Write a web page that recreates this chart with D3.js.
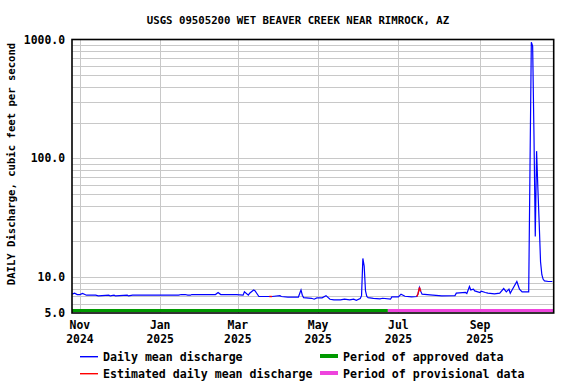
<!DOCTYPE html>
<html>
<head>
<meta charset="utf-8">
<script src="https://cdn.jsdelivr.net/npm/d3@7"></script>
<style>
  html, body { margin: 0; padding: 0; background: #fff; }
  svg { display: block; }
  text { font-family: "DejaVu Sans Mono", "Liberation Mono", monospace; font-weight: bold; fill: #000; }
</style>
</head>
<body>
<svg id="chart" width="576" height="384"></svg>
<script>
// ---- data ----
const title = "USGS 09505200 WET BEAVER CREEK NEAR RIMROCK, AZ";
const yLabel = "DAILY Discharge, cubic feet per second";

// daily mean discharge key points (date, cfs)
const dates = [
  "2024-10-26","2024-10-28","2024-10-30","2024-11-01","2024-11-03","2024-11-06","2024-11-13","2024-11-15",
  "2024-11-23","2024-11-24","2024-11-27","2024-11-28","2024-12-07","2024-12-08","2024-12-11","2025-01-15",
  "2025-01-17","2025-01-20","2025-01-22","2025-01-24","2025-01-25","2025-02-12","2025-02-14","2025-02-16",
  "2025-02-28","2025-03-05","2025-03-06","2025-03-09","2025-03-10","2025-03-13","2025-03-14","2025-03-17",
  "2025-03-25","2025-03-26","2025-03-27","2025-04-02","2025-04-03","2025-04-08","2025-04-16","2025-04-17",
  "2025-04-18","2025-04-19","2025-04-20","2025-04-26","2025-04-28","2025-04-30","2025-05-04","2025-05-07",
  "2025-05-10","2025-05-13","2025-05-18","2025-05-21","2025-05-25","2025-05-28","2025-05-30","2025-06-02",
  "2025-06-03","2025-06-04","2025-06-05","2025-06-06","2025-06-07","2025-06-08","2025-06-12","2025-06-17",
  "2025-06-19","2025-06-25","2025-06-26","2025-07-01","2025-07-03","2025-07-06","2025-07-11","2025-07-15",
  "2025-07-16","2025-07-17","2025-07-18","2025-07-19","2025-07-25","2025-08-03","2025-08-13","2025-08-14",
  "2025-08-21","2025-08-22","2025-08-24","2025-08-25","2025-08-27","2025-08-28","2025-09-01","2025-09-02",
  "2025-09-05","2025-09-07","2025-09-12","2025-09-16","2025-09-19","2025-09-21","2025-09-23","2025-09-24",
  "2025-09-26","2025-09-29","2025-10-01","2025-10-03","2025-10-08","2025-10-09","2025-10-10","2025-10-11",
  "2025-10-12","2025-10-13","2025-10-14","2025-10-15","2025-10-16","2025-10-17","2025-10-18","2025-10-19",
  "2025-10-20","2025-10-23","2025-10-26"
];
const values = [
  7.2, 7.34, 7.15, 7.15, 7.3, 7.06, 7.06, 6.96,
  7.06, 6.96, 7.06, 6.96, 7.06, 6.96, 7.06, 7.06,
  7.15, 7.15, 7.06, 7.06, 7.15, 7.15, 7.44, 7.15,
  7.15, 7.06, 7.53, 7.06, 7.34, 7.82, 7.7, 6.88,
  6.88, 6.88, 6.88, 7.0, 6.88, 6.79, 6.79, 7.3,
  7.82, 7.06, 6.74, 6.65, 6.53, 6.7, 6.7, 7.0,
  6.53, 6.44, 6.44, 6.53, 6.44, 6.53, 6.4, 6.62,
  7.0, 14.4, 12.4, 7.67, 6.9, 6.74, 6.65, 6.57,
  6.65, 6.53, 6.83, 6.83, 7.2, 6.92, 6.83, 6.88,
  7.3, 8.19, 7.6, 7.2, 7.1, 6.96, 7.0, 7.34,
  7.44, 7.3, 8.35, 7.82, 7.93, 7.67, 7.44, 7.62,
  7.44, 7.34, 7.24, 7.34, 8.03, 7.53, 7.93, 7.34,
  8.03, 9.2, 7.93, 7.53, 7.53, 85, 950, 880,
  160, 22, 115, 55, 28, 13.5, 10.5, 9.6,
  9.3, 9.2, 9.2
];
// estimated daily values (drawn red)
const estimatedDates = ["2025-03-26", "2025-07-16", "2025-07-17"];

// tick labels
const yTickValues = [1000, 100, 10, 5];
const yTickLabels = ["1000.0", "100.0", "10.0", "5.0"];
const xTickDates = ["2024-11-01","2025-01-01","2025-03-01","2025-05-01","2025-07-01","2025-09-01"];
const xTickMonths = ["Nov","Jan","Mar","May","Jul","Sep"];
const xTickYears = ["2024","2025","2025","2025","2025","2025"];

// data-status periods
const approvedPeriod = ["2024-10-26", "2025-06-23"];
const provisionalPeriod = ["2025-06-23", "2025-10-26T12:00"];

// legend
const legendItems = ["Daily mean discharge", "Estimated daily mean discharge",
                     "Period of approved data", "Period of provisional data"];

// ---- drawing ----
const parse = d3.isoParse;
const svg = d3.select("#chart");
const L = 72, R = 553.7, T = 39.5, B = 313;

const x = d3.scaleTime()
  .domain([parse("2024-10-26"), parse("2025-10-27")])
  .range([L, R]);
const y = d3.scaleLog().domain([5, 1000]).range([B, T]);

const data = dates.map((d, i) => ({ date: parse(d), value: values[i],
  est: estimatedDates.includes(d) }));

// grid
const gridVals = [];
[1, 10, 100].forEach(dec => { for (let k = 1; k <= 9; k++) { const v = k * dec; if (v > 5 && v < 1000) gridVals.push(v); } });
const grid = svg.append("g").attr("stroke", "#c8c8c8").attr("stroke-width", 1);
grid.selectAll("line.h").data(gridVals).join("line")
  .attr("x1", L).attr("x2", R)
  .attr("y1", d => Math.round(y(d)) + 0.5).attr("y2", d => Math.round(y(d)) + 0.5);
grid.selectAll("line.v").data(xTickDates).join("line")
  .attr("x1", d => Math.round(x(parse(d))) + 0.5).attr("x2", d => Math.round(x(parse(d))) + 0.5)
  .attr("y1", T).attr("y2", B);

// status bars
const barY0 = 309, barH = 3;
svg.append("rect").attr("x", x(parse(approvedPeriod[0]))).attr("y", barY0)
  .attr("width", x(parse(approvedPeriod[1])) - x(parse(approvedPeriod[0]))).attr("height", barH)
  .attr("fill", "#009900");
svg.append("rect").attr("x", x(parse(provisionalPeriod[0]))).attr("y", barY0)
  .attr("width", x(parse(provisionalPeriod[1])) - x(parse(provisionalPeriod[0]))).attr("height", barH)
  .attr("fill", "#ee44dd");

// line
const line = d3.line().x(d => x(d.date)).y(d => y(d.value));
svg.append("path").datum(data).attr("d", line)
  .attr("fill", "none").attr("stroke", "#0000ff").attr("stroke-width", 1.2);
// estimated segments
const estSegs = [];
for (let i = 1; i < data.length; i++) {
  if (data[i].est || data[i - 1].est) estSegs.push([data[i - 1], data[i]]);
}
svg.append("g").selectAll("path").data(estSegs).join("path")
  .attr("d", d => line(d)).attr("fill", "none").attr("stroke", "#ff0000").attr("stroke-width", 1.4);

// frame
svg.append("rect").attr("x", L).attr("y", T).attr("width", R - L).attr("height", B - T)
  .attr("fill", "none").attr("stroke", "#000").attr("stroke-width", 1.6);

// y tick labels
svg.append("g").selectAll("text").data(yTickValues).join("text")
  .attr("x", 65).attr("y", d => y(d)).attr("dy", "0.36em")
  .attr("text-anchor", "end").attr("font-size", "11.4px")
  .text((d, i) => yTickLabels[i]);

// x tick labels
const xl = svg.append("g").attr("font-size", "11.4px").attr("text-anchor", "middle");
xl.selectAll("text.m").data(xTickDates).join("text")
  .attr("x", d => x(parse(d))).attr("y", 329).text((d, i) => xTickMonths[i]);
xl.selectAll("text.yr").data(xTickDates).join("text")
  .attr("x", d => x(parse(d))).attr("y", 343).text((d, i) => xTickYears[i]);

// title
svg.append("text").attr("x", 298).attr("y", 24).attr("text-anchor", "middle")
  .attr("font-size", "10.7px").text(title);

// y label
svg.append("text").attr("transform", "translate(15,164) rotate(-90)")
  .attr("text-anchor", "middle").attr("font-size", "10.6px").text(yLabel);

// legend
const lg = svg.append("g").attr("font-size", "11.6px");
const legendDefs = [
  { x: 80, y: 356, type: "line", color: "#0000ff" },
  { x: 80, y: 373, type: "line", color: "#ff0000" },
  { x: 320, y: 356, type: "bar", color: "#009900" },
  { x: 320, y: 373, type: "bar", color: "#ee44dd" }
];
legendDefs.forEach((d, i) => {
  if (d.type === "line") {
    lg.append("rect").attr("x", d.x).attr("y", d.y).attr("width", 18).attr("height", 1.4)
      .attr("fill", d.color);
  } else {
    lg.append("rect").attr("x", d.x).attr("y", d.y - 2).attr("width", 18).attr("height", 4).attr("fill", d.color);
  }
  lg.append("text").attr("x", d.x + 23).attr("y", d.y + 0.5).attr("dy", "0.36em").text(legendItems[i]);
});
</script>
</body>
</html>
